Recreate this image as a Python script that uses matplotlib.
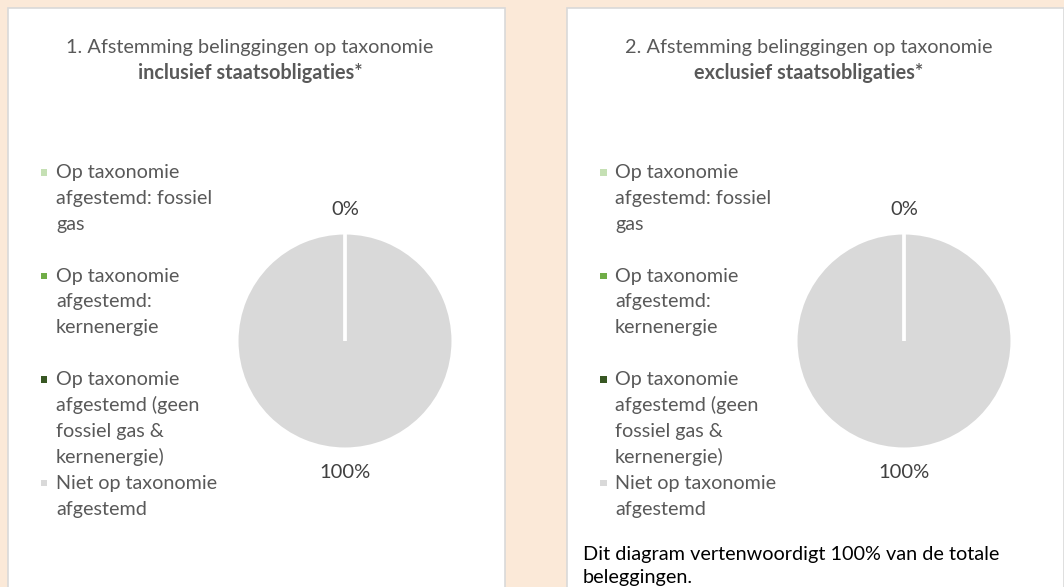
import matplotlib.pyplot as plt
from matplotlib.patches import Rectangle

plt.rcParams['font.family'] = ['Lato', 'DejaVu Sans']

W, H = 1064, 587

# chart data
categories = [
    "Op taxonomie\nafgestemd: fossiel\ngas",
    "Op taxonomie\nafgestemd:\nkernenergie",
    "Op taxonomie\nafgestemd (geen\nfossiel gas &\nkernenergie)",
    "Niet op taxonomie\nafgestemd",
]
colors = ["#C5E0B4", "#70AD47", "#385723", "#D9D9D9"]
incl_values = [0, 0, 0, 100]
excl_values = [0, 0, 0, 100]
titles = ["1. Afstemming belinggingen op taxonomie",
          "2. Afstemming belinggingen op taxonomie"]
subtitles = ["inclusief staatsobligaties*", "exclusief staatsobligaties*"]
footnote = ["Dit diagram vertenwoordigt 100% van de totale", "beleggingen."]

GREY_TXT = "#595959"

fig = plt.figure(figsize=(W / 100, H / 100), dpi=100)
fig.patch.set_facecolor("#FBE9D8")


def fx(x):
    return x / W


def fy(y):
    return 1 - y / H


def panel(dx, title, subtitle, values, note=None):
    # white card with light border, runs off the bottom of the figure
    fig.patches.append(Rectangle((fx(8 + dx), fy(H + 20)), fx(497), (H + 12) / H,
                                 transform=fig.transFigure, facecolor="white",
                                 edgecolor="#D9D9D9", linewidth=1.2, zorder=-5))

    fig.text(fx(250 + dx), fy(47), title, ha="center", va="center",
             fontsize=14.3, color=GREY_TXT)
    fig.text(fx(250 + dx), fy(73), subtitle, ha="center", va="center",
             fontsize=14.3, color=GREY_TXT, fontweight="bold")

    # legend, one slot of 4 lines per entry
    for i, (lab, col) in enumerate(zip(categories, colors)):
        y0 = 172 + i * 103.6
        fig.patches.append(Rectangle((fx(41 + dx), fy(y0 + 3.5)), fx(6.5), 6.5 / H,
                                     transform=fig.transFigure, facecolor=col,
                                     edgecolor="none"))
        for j, line in enumerate(lab.split("\n")):
            fig.text(fx(56 + dx), fy(y0 + j * 25.9 + 6), line, ha="left",
                     va="baseline", fontsize=14.2, color=GREY_TXT)

    # pie
    cx, cy, r = 345 + dx, 341, 108
    ax = fig.add_axes([fx(cx - r), fy(cy + r), fx(2 * r), 2 * r / H])
    total = sum(values)
    labels = []
    seen_zero = False
    for v in values:
        # zero slices sit on top of each other, label them once
        if v == 0 and seen_zero:
            labels.append("")
            continue
        seen_zero = seen_zero or v == 0
        labels.append("%d%%" % round(v / total * 100))
    wedges, texts = ax.pie(values, colors=colors, startangle=90, counterclock=False,
                           labels=labels, labeldistance=1.22,
                           wedgeprops=dict(edgecolor="white", linewidth=2.2),
                           textprops=dict(color="#404040", fontsize=14.5))
    for w, v in zip(wedges, values):
        if v == 0:
            w.set_zorder(3)
    for t in texts:
        t.set_ha("center")
        t.set_va("center")
    ax.set_xlim(-1, 1)
    ax.set_ylim(-1, 1)
    ax.axis("off")

    if note:
        for j, line in enumerate(note):
            fig.text(fx(583 - 559 + dx), fy(554 + j * 23.5 + 6), line, ha="left",
                     va="baseline", fontsize=14.3, color="black")


panel(0, titles[0], subtitles[0], incl_values)
panel(559, titles[1], subtitles[1], excl_values, footnote)

fig.savefig("out.png", dpi=100, facecolor=fig.get_facecolor())
